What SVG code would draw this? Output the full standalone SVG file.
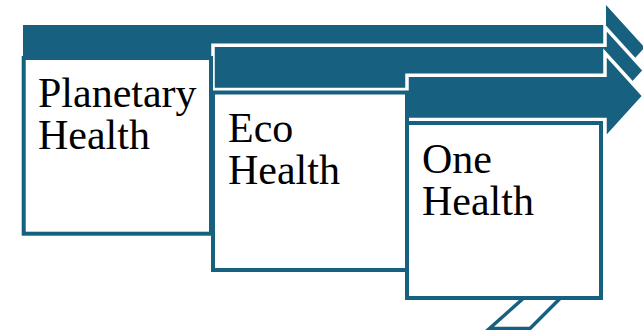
<svg xmlns="http://www.w3.org/2000/svg" width="643" height="330" viewBox="0 0 643 330">
  <style>
    .arrow { fill: #17607f; stroke: #ffffff; stroke-width: 3.5; stroke-linejoin: miter; }
    .box { fill: #ffffff; stroke: #17607f; stroke-width: 4; }
    .lbl { font-family: "Liberation Serif", "Times New Roman", serif; font-size: 42px; fill: #000000; }
    .tail { fill: #ffffff; stroke: #17607f; stroke-width: 3.5; }
  </style>
  <rect width="643" height="330" fill="#ffffff"/>
  <g id="arrows">
    <polygon id="arrow-planetary" class="arrow" points="23,25 606,25 606,5 644.5,47.5 606,90 606,75 23,75" style="stroke:none"/>
    <polygon id="arrow-eco" class="arrow" points="213,45.25 605,45.25 605,27 644.5,70.5 605,114 605,89.5 213,89.5"/>
    <polygon id="arrow-one" class="arrow" points="407,75.25 605,75.25 605,53 644,96 605,139 605,119.5 407,119.5"/>
  </g>
  <g id="node-planetary">
    <rect class="box" x="23.7" y="58" width="187.3" height="175.7"/>
    <text class="lbl" x="38" y="107">Planetary</text>
    <text class="lbl" x="38" y="149">Health</text>
  </g>
  <g id="node-eco">
    <rect class="box" x="213" y="92.5" width="194" height="177.5"/>
    <text class="lbl" x="228" y="142">Eco</text>
    <text class="lbl" x="228" y="184">Health</text>
  </g>
  <g id="connectors">
    <polygon class="tail" points="526,296 562.5,296 530,328.5 489.5,328.5"/>
  </g>
  <g id="node-one">
    <rect class="box" x="407" y="123" width="194" height="175"/>
    <text class="lbl" x="422" y="173">One</text>
    <text class="lbl" x="422" y="215">Health</text>
  </g>
</svg>
